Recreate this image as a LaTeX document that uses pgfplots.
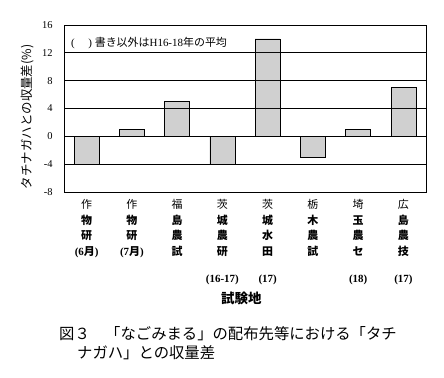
\documentclass[border=0pt]{standalone}
\usepackage{pgfplots}
\pgfplotsset{compat=1.18}
\usepackage{fontspec}
\setmainfont{Liberation Serif}
\newfontfamily\jp{Noto Sans CJK JP}
\usetikzlibrary{patterns.meta}
\newcommand{\J}[1]{{\jp #1}}
\newcommand{\JB}[1]{{\jp\bfseries #1}}
\begin{document}
\begin{tikzpicture}[x=1bp,y=1bp]
\useasboundingbox (0,0) rectangle (444,377);
\begin{axis}[
  at={(64bp,185bp)}, anchor=south west,
  width=362bp, height=167bp, scale only axis,
  xmin=-0.5, xmax=7.5, ymin=-8, ymax=16,
  ytick={-8,-4,0,4,8,12,16},
  ymajorgrids, grid style={black, line width=0.8pt},
  axis line style={black, line width=0.8pt},
  major tick length=0pt,
  /pgf/number format/assume math mode=true,
  yticklabel style={font=\fontsize{10.5}{12}\selectfont, xshift=-8bp},
  xtick={0,...,7},
  xticklabels={
    {\J{作}\\\JB{物}\\\JB{研}\\\textbf{(6\JB{月})}},
    {\J{作}\\\JB{物}\\\JB{研}\\\textbf{(7\JB{月})}},
    {\J{福}\\\JB{島}\\\JB{農}\\\JB{試}},
    {\J{茨}\\\JB{城}\\\JB{農}\\\JB{研}\\[12bp]\textbf{(16-17)}},
    {\J{茨}\\\JB{城}\\\JB{水}\\\JB{田}\\[12bp]\textbf{(17)}},
    {\J{栃}\\\JB{木}\\\JB{農}\\\JB{試}},
    {\J{埼}\\\JB{玉}\\\JB{農}\\\JB{セ}\\[12bp]\textbf{(18)}},
    {\J{広}\\\JB{島}\\\JB{農}\\\JB{技}\\[12bp]\textbf{(17)}}
  },
  xticklabel style={align=center, anchor=north, font=\fontsize{11}{15.5}\selectfont, yshift=-4bp},
  ylabel={\J{タチナガハとの収量差(\%)}},
  ylabel style={at={(axis description cs:-0.102,0.45)}, anchor=center, rotate=0, font=\fontsize{12.5}{14}\selectfont},
  xlabel={\JB{試験地}},
  xlabel style={at={(axis description cs:0.49,-0.637)}, anchor=center, font=\fontsize{13.5}{15}\selectfont},
  ybar, bar width=25bp,
  clip=false,
]
\addplot[draw=black, line width=0.6pt, pattern={Dots[distance=2bp, radius=0.55bp]}, pattern color=black!80]
  coordinates {(0,-4) (1,1) (2,5) (3,-4) (4,14) (5,-3) (6,1) (7,7)};
\node[anchor=west, font=\fontsize{11}{13}\selectfont, inner sep=0pt] at (rel axis cs:0.019,0.892) {(\quad\ )\ \J{書き以外は}H16-18\J{年の平均}};
\end{axis}
\node[anchor=west, inner sep=0pt, font=\fontsize{15.4}{17}\selectfont] at (59,43) {\J{図３　「なごみまる」の配布先等における「タチ}};
\node[anchor=west, inner sep=0pt, font=\fontsize{15.4}{17}\selectfont] at (77,24) {\J{ナガハ」との収量差}};
\end{tikzpicture}
\end{document}
